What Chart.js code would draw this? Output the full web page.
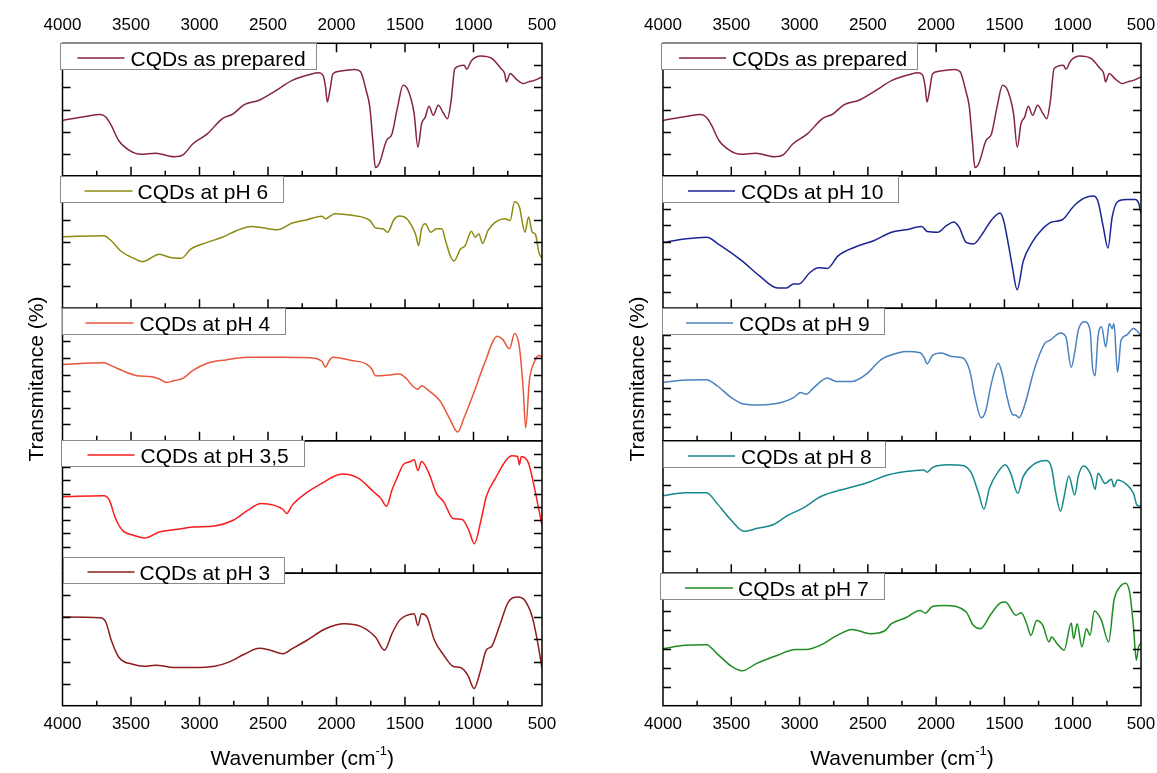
<!DOCTYPE html>
<html>
<head>
<meta charset="utf-8">
<script src="https://cdn.jsdelivr.net/npm/chart.js@4.4.1/dist/chart.umd.min.js"></script>
<style>
html, body { margin: 0; padding: 0; background: #fff; }
#wrap { position: relative; width: 1157px; height: 773px; overflow: hidden; }
.col { position: absolute; top: 0; height: 773px; width: 580px; }
#left { left: 0; }
#right { left: 600px; }
</style>
</head>
<body>
<div id="wrap">
  <div class="col" id="left"><canvas id="chartLeft"></canvas></div>
  <div class="col" id="right"><canvas id="chartRight"></canvas></div>
</div>
<script>
// x axis labels and tick marks (wavenumber, cm-1)
var xLabels = [4000, 3500, 3000, 2500, 2000, 1500, 1000, 500];
var xTickMarks = [3750, 3500, 3250, 3000, 2750, 2500, 2250, 2000, 1750, 1500, 1250, 1000, 750];

// CQDs as prepared
var wnPrepared = [4000,3833,3725,3684,3644,3590,3509,3428,3320,3186,3118,3050,2943,2835,2754,2673,2565,2458,2323,2188,2129,2099,2080,2067,2048,2026,1972,1864,1824,1784,1757,1735,1716,1689,1635,1595,1554,1514,1487,1460,1433,1406,1379,1352,1325,1293,1258,1217,1190,1163,1136,1069,1050,1015,948,867,800,773,760,733,692,638,598,557,500];
var tPrepared = [41.8,44.8,46.3,44.3,38,26.6,19,16.2,17,14.4,16,24,31.6,43,46.8,53.7,57,63.3,72,76.7,77.7,76,67,55.7,64.6,77,79,80.3,78.5,64.6,52,26.6,6.3,8.9,26.6,31.6,52,68.4,66.6,59.5,46.8,21.5,39.2,44.3,52.4,45.6,53.2,46.8,43,57,81,83.5,80.5,86.8,90.4,88.6,81,77.2,70.9,77.2,73.4,69.6,70.9,72,74.7];

// CQDs at pH 6
var wnPh6 = [4000,3698,3644,3577,3482,3415,3293,3213,3132,3064,2943,2835,2727,2619,2538,2431,2323,2215,2107,2080,2012,1891,1757,1716,1662,1627,1581,1541,1487,1446,1420,1401,1379,1352,1312,1271,1231,1204,1169,1142,1096,1061,1015,988,961,934,894,840,773,733,700,665,625,598,571,549,522,500];
var tPh6 = [54,54.8,51,43.4,37.8,35.2,40.8,38.3,37.8,44.6,49.7,53.6,58.7,61.7,60.7,59.2,64.3,66.8,69.4,67.6,71.4,70.2,66.3,60.7,60,57.4,66.8,69.6,67.6,61.2,54.8,47.2,60,63.8,57.4,60,60,51,39.5,35.7,44.6,47.2,58.2,53.6,56.1,49,58.7,65,67.6,66.3,80.4,76.5,57.4,68.9,57.4,56.1,42,37.8];

// CQDs at pH 4
var wnPh4 = [4000,3698,3644,3563,3455,3347,3293,3240,3186,3118,3050,2943,2808,2646,2404,2188,2107,2080,2053,2026,1891,1784,1743,1716,1676,1595,1541,1487,1446,1406,1379,1325,1244,1177,1115,1069,988,921,826,786,737,700,665,638,619,592,557,522,500];
var tPh4 = [57.5,58.8,56.7,52.9,49.1,48.3,46.6,44,45.3,47.3,52.9,58.5,61,63.1,63.1,62.6,60,55.5,60.6,63.1,60.6,58,54.2,49.1,49.1,49.9,50.4,46.6,41.5,38.9,41.5,37.7,30,17.3,6.6,17.3,38.9,58,78.9,76.3,69.5,80.9,70.7,40.2,9.7,45.3,59.3,64.4,63.1];

// CQDs at pH 3,5
var wnPh35 = [4000,3698,3658,3617,3563,3482,3401,3293,3159,3050,2889,2754,2646,2552,2458,2390,2363,2323,2242,2107,1959,1838,1730,1676,1635,1595,1554,1514,1460,1433,1406,1379,1325,1271,1217,1150,1083,1034,994,948,907,840,759,719,678,665,651,598,557,522,500];
var tPh35 = [57.7,58.5,55.2,42.5,32.4,28.6,26.6,31.1,33.2,34.9,35.7,40,47.6,52.7,51.4,48.1,45.1,51.4,59,67.8,74.9,71.6,61.5,56.5,50.6,62.8,72.9,81.8,84.3,85.6,77.5,84.3,75.4,60.3,53.9,41.3,40.5,32.4,22.3,38.7,57.7,71.6,85.6,88.6,88.1,81.8,88.1,83,65.3,47.6,36.2];

// CQDs at pH 3
var wnPh3 = [4000,3725,3684,3644,3590,3482,3401,3320,3186,3050,2889,2781,2673,2565,2485,2390,2323,2215,2080,1945,1824,1716,1649,1595,1541,1487,1433,1406,1379,1339,1285,1217,1150,1096,1042,996,948,907,867,813,746,678,625,571,530,500];
var tPh3 = [66.9,66.4,63.2,49.4,36.8,31.1,29.8,30.6,28.8,28.8,29.8,33.1,38.8,43.4,41.9,39.3,43.1,49.4,58.1,61.9,59.9,51.9,41.9,54.4,64.4,68.2,69.4,60.6,69.4,66.9,49.4,38.1,29.8,28.8,23.1,13,26.8,41.9,44.9,59.4,78.2,82,79.4,66.9,46.9,28.1];

// CQDs at pH 10
var wnPh10 = [4000,3838,3682,3578,3421,3291,3161,3096,3044,3005,2926,2861,2796,2718,2588,2457,2327,2223,2105,2066,1988,1923,1871,1832,1780,1728,1662,1597,1532,1506,1467,1441,1407,1362,1297,1232,1154,1076,998,920,847,815,776,742,711,672,607,542,516,500];
var tPh10 = [49.7,52.3,53.6,47.2,35.7,24.2,15.3,15.3,18.4,18.4,26.8,30.6,30.1,39.5,46.4,51,57.4,59.2,61.7,57.9,57.4,62.5,65.1,61.2,49.7,48.5,56.1,66.3,71.9,66.3,45.9,30.6,14,35.7,49.7,58.7,65.1,66.8,76.5,82.9,84.7,80.6,61.2,45.4,68.9,80.4,82.1,82.1,79,71.4];

// CQDs at pH 9
var wnPh9 = [4000,3838,3682,3604,3500,3421,3291,3135,3044,2992,2952,2900,2796,2731,2614,2509,2405,2301,2223,2118,2087,2066,2027,1962,1884,1806,1754,1715,1670,1637,1597,1545,1519,1480,1441,1415,1394,1350,1284,1206,1167,1089,1050,1011,985,959,915,873,855,836,815,789,758,732,711,698,672,646,607,555,500];
var tPh9 = [44,45.8,46.1,41.5,32.6,28,27,28.8,32.6,36.4,35.1,39.7,47.3,44.8,44.8,50.4,61.1,65.6,67.4,66.4,62.6,58,64.4,66.2,63.6,62.6,52.9,32.6,17.3,22.4,42.7,58.5,51.7,32.6,19.8,19.3,17.3,27.5,52.9,73.3,75.8,81.4,78.4,55.5,66.9,83.5,89.8,83.5,55.5,49.1,78.4,86,70.7,88.5,84.7,88.5,51.7,75.8,79.6,84.7,79.6];

// CQDs at pH 8
var wnPh8 = [4000,3838,3682,3604,3500,3408,3317,3187,3083,2979,2848,2744,2588,2483,2379,2223,2092,2066,2027,1910,1806,1741,1689,1650,1610,1545,1493,1454,1402,1363,1297,1193,1154,1128,1089,1063,1029,985,959,920,867,836,815,763,716,698,672,607,555,529,500];
var tPh8 = [58.5,60.8,60.8,52.7,40,31.6,33.7,37,43.8,48.9,57.7,61.5,65.8,69.1,73.4,76.7,78,76.2,79.7,81.8,81.3,75.4,60.3,48.4,64.1,76.7,81.8,75.4,60.3,72.9,81.3,85,79.2,62.8,46.8,57.7,73.4,59,73.4,81,74.2,63.3,75.4,67.8,70.9,65.3,70.4,67.1,60.3,51.4,50.6];

// CQDs at pH 7
var wnPh7 = [4000,3838,3682,3604,3500,3421,3317,3161,3031,2952,2848,2744,2614,2483,2379,2327,2223,2118,2079,2027,1936,1780,1728,1676,1597,1532,1493,1415,1376,1337,1306,1264,1219,1174,1154,1115,1063,1011,993,967,933,899,873,842,790,737,698,646,612,581,555,534,518,500];
var tPh7 = [43.1,45.6,46.1,39.3,29.8,26.3,31.8,38.1,42.4,42.4,45.6,51.9,57.6,54.4,56.4,61.9,66.4,71.9,69.9,74.9,75.7,70.7,60.7,58.1,69.4,77.4,78.2,68.2,70.2,61.9,53.1,64.4,60.7,48.1,51.9,46.9,41.9,62.4,50.6,61.9,44.4,58.1,53.1,71.4,64.4,48.1,79.4,90.7,92.5,84.5,59.4,34.3,44.4,46.9];

// minor y tick marks of each panel (panels have no y labels)
function yMarks(n) {
    var out = [];
    for (var k = 1; k < n; k++) out.push(k * 100 / n);
    return out;
}

Chart.defaults.font.family = "'Liberation Sans', Arial, sans-serif";
Chart.defaults.color = "#000";

var leftPanels = [
    { name: "CQDs as prepared", wn: wnPrepared, t: tPrepared, color: "#842541", marks: yMarks(6),
      box: { x: -3, dy: 0, w: 256, l0: 15, l1: 62, tx: 68 } },
    { name: "CQDs at pH 6", wn: wnPh6, t: tPh6, color: "#8c8a10", marks: yMarks(6),
      box: { x: -3, dy: 0.5, w: 223, l0: 22, l1: 70, tx: 75 } },
    { name: "CQDs at pH 4", wn: wnPh4, t: tPh4, color: "#e8573a", marks: yMarks(8),
      box: { x: -1, dy: 0, w: 223, l0: 23, l1: 71, tx: 77 } },
    { name: "CQDs at pH 3,5", wn: wnPh35, t: tPh35, color: "#fa1c1c", marks: [20, 30, 40, 50, 60, 70, 80, 90],
      box: { x: -2, dy: -0.5, w: 243, l0: 25, l1: 72, tx: 78 } },
    { name: "CQDs at pH 3", wn: wnPh3, t: tPh3, color: "#8e1b1e", marks: yMarks(6),
      box: { x: 0, dy: -16, w: 221, l0: 25, l1: 72, tx: 77 } }
];

var rightPanels = [
    { name: "CQDs as prepared", wn: wnPrepared, t: tPrepared, color: "#842541", marks: yMarks(6),
      box: { x: -2, dy: 0, w: 256, l0: 16, l1: 63, tx: 69 } },
    { name: "CQDs at pH 10", wn: wnPh10, t: tPh10, color: "#1b2592", marks: yMarks(8),
      box: { x: -1, dy: 0.5, w: 236, l0: 25, l1: 72, tx: 78 } },
    { name: "CQDs at pH 9", wn: wnPh9, t: tPh9, color: "#4a82bf", marks: yMarks(10),
      box: { x: -1, dy: 0, w: 222, l0: 23, l1: 70, tx: 76 } },
    { name: "CQDs at pH 8", wn: wnPh8, t: tPh8, color: "#17898c", marks: yMarks(6),
      box: { x: 0, dy: 0, w: 222, l0: 25, l1: 72, tx: 78 } },
    { name: "CQDs at pH 7", wn: wnPh7, t: tPh7, color: "#1f8c22", marks: yMarks(7),
      box: { x: -3, dy: 0, w: 224, l0: 22, l1: 70, tx: 75 } }
];

var panelPlugin = {
    id: "panels",
    afterDatasetsDraw: function (chart) {
        var ctx = chart.ctx, a = chart.chartArea, xs = chart.scales.x;
        ctx.save();
        ctx.strokeStyle = "#000";
        ctx.lineWidth = 1.5;
        chart.$panels.forEach(function (p, i) {
            var ys = chart.scales["y" + i];
            ctx.strokeRect(a.left, ys.top, a.right - a.left, ys.bottom - ys.top);
            ctx.beginPath();
            p.marks.forEach(function (v) {
                var py = Math.round(ys.getPixelForValue(v)) + 0.5;
                ctx.moveTo(a.left, py); ctx.lineTo(a.left + 8, py);
                ctx.moveTo(a.right, py); ctx.lineTo(a.right - 8, py);
            });
            xTickMarks.forEach(function (v) {
                var px = xs.getPixelForValue(v);
                var len = v % 500 === 0 ? 9 : 5;
                ctx.moveTo(px, ys.bottom); ctx.lineTo(px, ys.bottom - len);
                if (i === 0) { ctx.moveTo(px, ys.top); ctx.lineTo(px, ys.top + len); }
            });
            ctx.stroke();
        });
        ctx.restore();
    },
    afterDraw: function (chart) {
        var ctx = chart.ctx, a = chart.chartArea;
        ctx.save();
        // legend boxes
        chart.$panels.forEach(function (p, i) {
            var ys = chart.scales["y" + i];
            var b = p.box;
            var bx = Math.round(a.left + b.x) + 0.5, by = Math.round(ys.top + b.dy) + 0.5;
            ctx.fillStyle = "#fff";
            ctx.fillRect(bx, by, b.w, 26);
            ctx.strokeStyle = "#8a8a8a";
            ctx.lineWidth = 1;
            ctx.strokeRect(bx, by, b.w, 26);
            ctx.strokeStyle = p.color;
            ctx.lineWidth = 1.5;
            ctx.beginPath();
            ctx.moveTo(a.left + b.l0, by + 14.5);
            ctx.lineTo(a.left + b.l1, by + 14.5);
            ctx.stroke();
            ctx.fillStyle = "#000";
            ctx.font = "21px 'Liberation Sans', Arial, sans-serif";
            ctx.textAlign = "left";
            ctx.textBaseline = "alphabetic";
            ctx.fillText(p.name, a.left + b.tx, by + 22);
        });
        // axis titles
        ctx.fillStyle = "#000";
        ctx.font = "21px 'Liberation Sans', Arial, sans-serif";
        ctx.textBaseline = "middle";
        ctx.textAlign = "center";
        ctx.save();
        ctx.translate(a.left - 25, 379);
        ctx.rotate(-Math.PI / 2);
        ctx.fillText("Transmitance (%)", 0, 0);
        ctx.restore();

        var t1 = "Wavenumber (cm", t2 = "-1", t3 = ")";
        ctx.textAlign = "left";
        ctx.textBaseline = "alphabetic";
        var w1 = ctx.measureText(t1).width, w3 = ctx.measureText(t3).width;
        ctx.font = "13px 'Liberation Sans', Arial, sans-serif";
        var w2 = ctx.measureText(t2).width;
        var x0 = (a.left + a.right) / 2 - (w1 + w2 + w3) / 2;
        ctx.font = "21px 'Liberation Sans', Arial, sans-serif";
        ctx.fillText(t1, x0, 765);
        ctx.font = "13px 'Liberation Sans', Arial, sans-serif";
        ctx.fillText(t2, x0 + w1, 755);
        ctx.font = "21px 'Liberation Sans', Arial, sans-serif";
        ctx.fillText(t3, x0 + w1 + w2, 765);
        ctx.restore();
    }
};

function xAxis(pos, height) {
    return {
        type: "linear",
        position: pos,
        min: 500,
        max: 4000,
        reverse: true,
        grid: { display: false },
        border: { display: false },
        afterBuildTicks: function (s) { s.ticks = xLabels.map(function (v) { return { value: v }; }); },
        afterFit: function (s) { s.height = height; },
        ticks: { color: "#000", font: { size: 17 }, padding: 0, maxRotation: 0, autoSkip: false,
                 callback: function (v) { return String(v); } }
    };
}

function makeChart(id, panels, padLeft, padRight) {
    var scales = { x: xAxis("bottom", 67.3), xTop: xAxis("top", 43.3) };
    var datasets = [];
    panels.forEach(function (p, i) {
        scales["y" + i] = {
            type: "linear", position: "right", stack: "panels", stackWeight: 1,
            min: 0, max: 100,
            grid: { display: false }, border: { display: false }, ticks: { display: false },
            afterFit: function (s) { s.width = 0; }
        };
        datasets.push({
            label: p.name,
            data: p.wn.map(function (w, k) { return { x: w, y: p.t[k] }; }),
            xAxisID: "x",
            yAxisID: "y" + i,
            borderColor: p.color,
            borderWidth: 1.5,
            pointRadius: 0,
            fill: false,
            cubicInterpolationMode: "monotone"
        });
    });
    var chart = new Chart(document.getElementById(id), {
        type: "line",
        data: { datasets: datasets },
        options: {
            responsive: true,
            maintainAspectRatio: false,
            animation: false,
            events: [],
            layout: { padding: { left: padLeft, right: padRight, top: 0, bottom: 0 } },
            scales: scales,
            plugins: { legend: { display: false }, tooltip: { enabled: false } }
        },
        plugins: [{ id: "panelsInit", beforeInit: function (c) { c.$panels = panels; } }, panelPlugin]
    });
    return chart;
}

makeChart("chartLeft", leftPanels, 62.5, 38);
makeChart("chartRight", rightPanels, 63, 39);
</script>
</body>
</html>
